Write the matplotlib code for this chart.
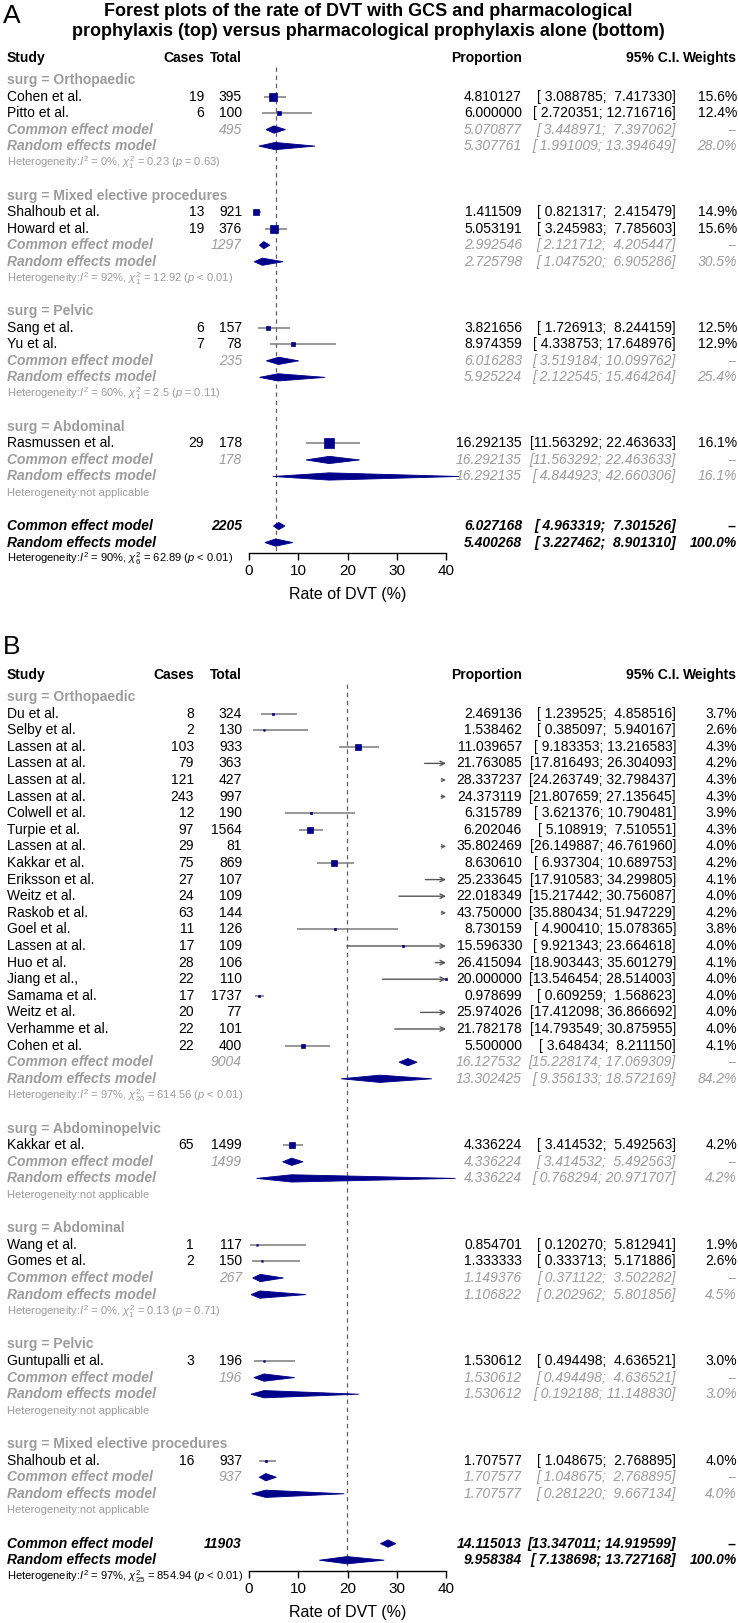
import matplotlib
matplotlib.use("Agg")
import matplotlib.pyplot as plt
import matplotlib.transforms as mtransforms
from matplotlib.ticker import FuncFormatter
from matplotlib.patches import Polygon
import numpy as np

plt.rcParams['font.family'] = ['Liberation Sans', 'DejaVu Sans']
plt.rcParams['mathtext.fontset'] = 'custom'
plt.rcParams['mathtext.rm'] = 'Liberation Sans'
plt.rcParams['mathtext.it'] = 'Liberation Sans:italic'
plt.rcParams['mathtext.bf'] = 'Liberation Sans:bold'

# ======================= Panel A data =======================
A_groups = ["Orthopaedic", "Mixed elective procedures", "Pelvic", "Abdominal"]
A_study = ["Cohen et al.", "Pitto et al.", "Shalhoub et al.", "Howard et al.",
           "Sang et al.", "Yu et al.", "Rasmussen et al."]
A_study_group = [0, 0, 1, 1, 2, 2, 3]
A_cases = [19, 6, 13, 19, 6, 7, 29]
A_total = [395, 100, 921, 376, 157, 78, 178]
A_prop = [4.810127, 6.000000, 1.411509, 5.053191, 3.821656, 8.974359, 16.292135]
A_lower = [3.088785, 2.720351, 0.821317, 3.245983, 1.726913, 4.338753, 11.563292]
A_upper = [7.417330, 12.716716, 2.415479, 7.785603, 8.244159, 17.648976, 22.463633]
A_weight = ["15.6%", "12.4%", "14.9%", "15.6%", "12.5%", "12.9%", "16.1%"]
A_sub_total = [495, 1297, 235, 178]
A_sub_common = [5.070877, 2.992546, 6.016283, 16.292135]
A_sub_common_lower = [3.448971, 2.121712, 3.519184, 11.563292]
A_sub_common_upper = [7.397062, 4.205447, 10.099762, 22.463633]
A_sub_random = [5.307761, 2.725798, 5.925224, 16.292135]
A_sub_random_lower = [1.991009, 1.047520, 2.122545, 4.844923]
A_sub_random_upper = [13.394649, 6.905286, 15.464264, 42.660306]
A_sub_random_weight = ["28.0%", "30.5%", "25.4%", "16.1%"]
A_sub_het = [r"Heterogeneity:$I^2$ = 0%, $\chi^2_1$ = 0.23 ($p$ = 0.63)",
             r"Heterogeneity:$I^2$ = 92%, $\chi^2_1$ = 12.92 ($p$ < 0.01)",
             r"Heterogeneity:$I^2$ = 60%, $\chi^2_1$ = 2.5 ($p$ = 0.11)",
             "Heterogeneity:not applicable"]
A_overall_total = 2205
A_overall_common = [6.027168, 4.963319, 7.301526]
A_overall_random = [5.400268, 3.227462, 8.901310]
A_overall_het = r"Heterogeneity:$I^2$ = 90%, $\chi^2_6$ = 62.89 ($p$ < 0.01)"
A_tick_labels = [0, 10, 20, 30, 40]

# ======================= Panel B data =======================
B_groups = ["Orthopaedic", "Abdominopelvic", "Abdominal", "Pelvic", "Mixed elective procedures"]
B_study = ["Du et al.", "Selby et al.", "Lassen at al.", "Lassen at al.", "Lassen at al.",
           "Lassen at al.", "Colwell et al.", "Turpie et al.", "Lassen at al.", "Kakkar et al.",
           "Eriksson et al.", "Weitz et al.", "Raskob et al.", "Goel et al.", "Lassen at al.",
           "Huo et al.", "Jiang et al.,", "Samama et al.", "Weitz et al.", "Verhamme et al.",
           "Cohen et al.",
           "Kakkar et al.",
           "Wang et al.", "Gomes et al.",
           "Guntupalli et al.",
           "Shalhoub et al."]
B_study_group = [0] * 21 + [1] + [2, 2] + [3] + [4]
B_cases = [8, 2, 103, 79, 121, 243, 12, 97, 29, 75, 27, 24, 63, 11, 17, 28, 22, 17, 20, 22, 22,
           65, 1, 2, 3, 16]
B_total = [324, 130, 933, 363, 427, 997, 190, 1564, 81, 869, 107, 109, 144, 126, 109, 106, 110,
           1737, 77, 101, 400, 1499, 117, 150, 196, 937]
B_prop = [2.469136, 1.538462, 11.039657, 21.763085, 28.337237, 24.373119, 6.315789, 6.202046,
          35.802469, 8.630610, 25.233645, 22.018349, 43.750000, 8.730159, 15.596330, 26.415094,
          20.000000, 0.978699, 25.974026, 21.782178, 5.500000,
          4.336224, 0.854701, 1.333333, 1.530612, 1.707577]
B_lower = [1.239525, 0.385097, 9.183353, 17.816493, 24.263749, 21.807659, 3.621376, 5.108919,
           26.149887, 6.937304, 17.910583, 15.217442, 35.880434, 4.900410, 9.921343, 18.903443,
           13.546454, 0.609259, 17.412098, 14.793549, 3.648434,
           3.414532, 0.120270, 0.333713, 0.494498, 1.048675]
B_upper = [4.858516, 5.940167, 13.216583, 26.304093, 32.798437, 27.135645, 10.790481, 7.510551,
           46.761960, 10.689753, 34.299805, 30.756087, 51.947229, 15.078365, 23.664618, 35.601279,
           28.514003, 1.568623, 36.866692, 30.875955, 8.211150,
           5.492563, 5.812941, 5.171886, 4.636521, 2.768895]
B_weight = ["3.7%", "2.6%", "4.3%", "4.2%", "4.3%", "4.3%", "3.9%", "4.3%", "4.0%", "4.2%",
            "4.1%", "4.0%", "4.2%", "3.8%", "4.0%", "4.1%", "4.0%", "4.0%", "4.0%", "4.0%",
            "4.1%", "4.2%", "1.9%", "2.6%", "3.0%", "4.0%"]
B_sub_total = [9004, 1499, 267, 196, 937]
B_sub_common = [16.127532, 4.336224, 1.149376, 1.530612, 1.707577]
B_sub_common_lower = [15.228174, 3.414532, 0.371122, 0.494498, 1.048675]
B_sub_common_upper = [17.069309, 5.492563, 3.502282, 4.636521, 2.768895]
B_sub_random = [13.302425, 4.336224, 1.106822, 1.530612, 1.707577]
B_sub_random_lower = [9.356133, 0.768294, 0.202962, 0.192188, 0.281220]
B_sub_random_upper = [18.572169, 20.971707, 5.801856, 11.148830, 9.667134]
B_sub_random_weight = ["84.2%", "4.2%", "4.5%", "3.0%", "4.0%"]
B_sub_het = [r"Heterogeneity:$I^2$ = 97%, $\chi^2_{20}$ = 614.56 ($p$ < 0.01)",
             "Heterogeneity:not applicable",
             r"Heterogeneity:$I^2$ = 0%, $\chi^2_1$ = 0.13 ($p$ = 0.71)",
             "Heterogeneity:not applicable",
             "Heterogeneity:not applicable"]
B_overall_total = 11903
B_overall_common = [14.115013, 13.347011, 14.919599]
B_overall_random = [9.958384, 7.138698, 13.727168]
B_overall_het = r"Heterogeneity:$I^2$ = 97%, $\chi^2_{25}$ = 854.94 ($p$ < 0.01)"
B_tick_labels = [0, 10, 20, 30, 40]
# In the source figure panel B's axis labels read twice the plotted proportion
B_axis_label_factor = 2

TITLE = ["Forest plots of the rate of DVT with GCS and pharmacological",
         "prophylaxis (top) versus pharmacological prophylaxis alone (bottom)"]
XLABEL = "Rate of DVT (%)"

# ======================= styling / layout =======================
W, H = 738, 1623
NAVY = "#00008B"
GRAY = "#9c9c9c"
CI_COL = "#7a7a7a"
REF_COL = "#606060"
FS = 10
FS_HET = 8
STUDY_X = 7
TOTAL_R = 242
PROP_R = 522
CI_R = 676
CI_HEAD_R = 680
WEIGHT_R = 737
X0_PX, X1_PX = 249, 446
SQ_MAX_PX = 9.6
DIAM_H = 0.22

fig = plt.figure(figsize=(W / 100, H / 100), dpi=100)
fig.patch.set_facecolor("white")


def ci_str(lo, hi):
    return "[{:9.6f}; {:9.6f}]".format(lo, hi)


def draw_panel(letter, letter_px, row0_px, dy, axis_px, cases_r, xmax, tick_pos, tick_fmt,
               xlabel_px, groups, study, sgroup, cases, total, prop, lower, upper, weight,
               sub_total, sc, scl, scu, sr, srl, sru, srw, shet,
               ov_total, ov_c, ov_r, ov_het):
    top_px = row0_px - 1.7 * dy
    ax = fig.add_axes([X0_PX / W, 1 - axis_px / H, (X1_PX - X0_PX) / W, (axis_px - top_px) / H])
    ybot = (axis_px - row0_px) / dy
    ax.set_ylim(ybot, -1.7)
    ax.set_xlim(0, xmax)
    ax.patch.set_visible(False)
    for s in ["top", "left", "right"]:
        ax.spines[s].set_visible(False)
    ax.spines["bottom"].set_bounds(0, xmax)
    ax.spines["bottom"].set_linewidth(1.0)
    ax.set_yticks([])
    ax.set_xticks(tick_pos)
    ax.xaxis.set_major_formatter(tick_fmt)
    ax.tick_params(axis="x", direction="out", length=5, width=1.0, labelsize=11, pad=3)
    tr = mtransforms.blended_transform_factory(fig.transFigure, ax.transData)

    def T(xpx, row, s, ha="left", **kw):
        ax.text(xpx / W, row, s, transform=tr, ha=ha, va="center", clip_on=False, **kw)

    fig.text(3 / W, 1 - letter_px / H, letter, fontsize=19, ha="left", va="center")
    fig.text((X0_PX + X1_PX) / 2 / W, 1 - xlabel_px / H, XLABEL, fontsize=11.5,
             ha="center", va="center")

    # header
    hr = -1.35
    T(STUDY_X, hr, "Study", fontsize=FS, fontweight="bold")
    T(cases_r, hr, "Cases", "right", fontsize=FS, fontweight="bold")
    T(TOTAL_R, hr, "Total", "right", fontsize=FS, fontweight="bold")
    T(PROP_R, hr, "Proportion", "right", fontsize=FS, fontweight="bold")
    T(CI_HEAD_R, hr, "95% C.I.", "right", fontsize=FS, fontweight="bold")
    T(WEIGHT_R, hr, "Weights", "right", fontsize=FS, fontweight="bold")

    # inverse-variance (logit) study weights for square sizes
    c = np.array(cases, float)
    n = np.array(total, float)
    wiv = c * (n - c) / n
    wmax = wiv.max()

    # reference line
    ax.plot([ov_r[0], ov_r[0]], [-0.8, ybot], color=REF_COL, lw=0.9, ls=(0, (3.5, 3)),
            zorder=1, clip_on=False)

    def diamond(est, lo, hi, row):
        ax.add_patch(Polygon([(lo, row), (est, row - DIAM_H), (hi, row), (est, row + DIAM_H)],
                             closed=True, fc=NAVY, ec=NAVY, lw=0.6, zorder=3, clip_on=False))

    r = 0
    for g, gname in enumerate(groups):
        T(STUDY_X, r, "surg = " + gname, fontsize=FS, fontweight="bold", color=GRAY)
        r += 1
        for i in [k for k in range(len(study)) if sgroup[k] == g]:
            T(STUDY_X, r, study[i], fontsize=FS)
            T(cases_r, r, str(cases[i]), "right", fontsize=FS)
            T(TOTAL_R, r, str(total[i]), "right", fontsize=FS)
            T(PROP_R, r, "{:.6f}".format(prop[i]), "right", fontsize=FS)
            T(CI_R, r, ci_str(lower[i], upper[i]), "right", fontsize=FS)
            T(WEIGHT_R, r, weight[i], "right", fontsize=FS)
            lo, hi = lower[i], upper[i]
            if hi <= xmax:
                ax.plot([lo, hi], [r, r], color=CI_COL, lw=1.1, zorder=2,
                        solid_capstyle="butt", clip_on=False)
            elif lo < xmax:
                ax.annotate("", xy=(xmax, r), xytext=(lo, r), annotation_clip=False,
                            arrowprops=dict(arrowstyle="->", color="#555555", lw=1.0,
                                            shrinkA=0, shrinkB=0, mutation_scale=8),
                            zorder=2)
            else:
                ax.annotate("", xy=(xmax, r), xytext=(xmax * 0.975, r), annotation_clip=False,
                            arrowprops=dict(arrowstyle="->", color="#555555", lw=0.8,
                                            shrinkA=0, shrinkB=0, mutation_scale=6),
                            zorder=2)
            if prop[i] <= xmax:
                side = SQ_MAX_PX * np.sqrt(wiv[i] / wmax)
                ax.plot([prop[i]], [r], marker="s", ms=max(side, 1.5) * 0.72, color=NAVY,
                        mec=NAVY, mew=0.5, zorder=4, clip_on=False)
            r += 1
        # subgroup common
        T(STUDY_X, r, "Common effect model", fontsize=FS, fontweight="bold",
          style="italic", color=GRAY)
        T(TOTAL_R, r, str(sub_total[g]), "right", fontsize=FS, style="italic", color=GRAY)
        T(PROP_R, r, "{:.6f}".format(sc[g]), "right", fontsize=FS, style="italic", color=GRAY)
        T(CI_R, r, ci_str(scl[g], scu[g]), "right", fontsize=FS, style="italic", color=GRAY)
        T(WEIGHT_R, r, "--", "right", fontsize=FS, style="italic", color=GRAY)
        diamond(sc[g], scl[g], scu[g], r)
        r += 1
        T(STUDY_X, r, "Random effects model", fontsize=FS, fontweight="bold",
          style="italic", color=GRAY)
        T(PROP_R, r, "{:.6f}".format(sr[g]), "right", fontsize=FS, style="italic", color=GRAY)
        T(CI_R, r, ci_str(srl[g], sru[g]), "right", fontsize=FS, style="italic", color=GRAY)
        T(WEIGHT_R, r, srw[g], "right", fontsize=FS, style="italic", color=GRAY)
        diamond(sr[g], srl[g], sru[g], r)
        r += 1
        T(STUDY_X, r, shet[g], fontsize=FS_HET, color=GRAY)
        r += 2

    # overall
    T(STUDY_X, r, "Common effect model", fontsize=FS, fontweight="bold", style="italic")
    T(TOTAL_R, r, str(ov_total), "right", fontsize=FS, fontweight="bold", style="italic")
    T(PROP_R, r, "{:.6f}".format(ov_c[0]), "right", fontsize=FS, fontweight="bold", style="italic")
    T(CI_R, r, ci_str(ov_c[1], ov_c[2]), "right", fontsize=FS, fontweight="bold", style="italic")
    T(WEIGHT_R, r, "--", "right", fontsize=FS, fontweight="bold")
    diamond(ov_c[0], ov_c[1], ov_c[2], r)
    r += 1
    T(STUDY_X, r, "Random effects model", fontsize=FS, fontweight="bold", style="italic")
    T(PROP_R, r, "{:.6f}".format(ov_r[0]), "right", fontsize=FS, fontweight="bold", style="italic")
    T(CI_R, r, ci_str(ov_r[1], ov_r[2]), "right", fontsize=FS, fontweight="bold", style="italic")
    T(WEIGHT_R, r, "100.0%", "right", fontsize=FS, fontweight="bold", style="italic")
    diamond(ov_r[0], ov_r[1], ov_r[2], r)
    r += 1
    T(STUDY_X, r, ov_het, fontsize=FS_HET)
    return ax


# title
fig.text(368 / W, 1 - 11 / H, TITLE[0], fontsize=13, fontweight="bold", ha="center", va="center")
fig.text(368 / W, 1 - 31 / H, TITLE[1], fontsize=13, fontweight="bold", ha="center", va="center")

fmtA = FuncFormatter(lambda v, _: "{:g}".format(v))
draw_panel("A", 16, 80, 16.52, 553, 204, max(A_tick_labels), A_tick_labels, fmtA, 595,
           A_groups, A_study, A_study_group, A_cases, A_total, A_prop, A_lower, A_upper, A_weight,
           A_sub_total, A_sub_common, A_sub_common_lower, A_sub_common_upper,
           A_sub_random, A_sub_random_lower, A_sub_random_upper, A_sub_random_weight, A_sub_het,
           A_overall_total, A_overall_common, A_overall_random, A_overall_het)

fmtB = FuncFormatter(lambda v, _: "{:g}".format(v * B_axis_label_factor))
B_tick_pos = [t / B_axis_label_factor for t in B_tick_labels]
draw_panel("B", 647, 697, 16.6, 1571, 194, max(B_tick_pos), B_tick_pos, fmtB, 1613,
           B_groups, B_study, B_study_group, B_cases, B_total, B_prop, B_lower, B_upper, B_weight,
           B_sub_total, B_sub_common, B_sub_common_lower, B_sub_common_upper,
           B_sub_random, B_sub_random_lower, B_sub_random_upper, B_sub_random_weight, B_sub_het,
           B_overall_total, B_overall_common, B_overall_random, B_overall_het)

fig.savefig("out.png", dpi=100, facecolor="white")
